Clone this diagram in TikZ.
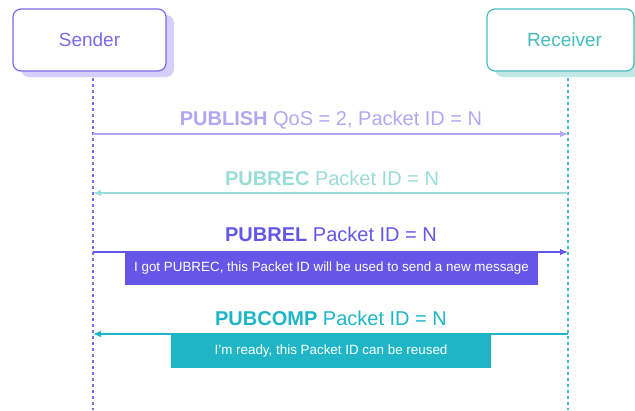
\documentclass[tikz,border=0pt]{standalone}
\usepackage{fontspec}
\setmainfont{Liberation Sans}
\usetikzlibrary{arrows.meta}
\definecolor{senderc}{HTML}{7A6BEB}
\definecolor{sendershadow}{HTML}{D5CFFA}
\definecolor{recvc}{HTML}{46BDBD}
\definecolor{recvshadow}{HTML}{BFE8E6}
\definecolor{pubc}{HTML}{B2A8F2}
\definecolor{recc}{HTML}{9ADCD8}
\definecolor{relc}{HTML}{6656E8}
\definecolor{compc}{HTML}{1EB6C6}
\tikzset{
  actor/.style={draw=#1, line width=1.2pt, rounded corners=8pt, fill=white, minimum width=153pt, minimum height=62pt, inner sep=0pt, font=\fontsize{19}{22}\selectfont, text=#1},
  shadowbox/.style={fill=#1, rounded corners=8pt, minimum width=153pt, minimum height=62pt, inner sep=0pt},
  lifeline/.style={draw=#1, line width=1.3pt, dash pattern=on 3pt off 3pt},
  msg/.style={draw=#1, line width=1.2pt, -{Latex[length=8pt,width=6.5pt]}},
  msglabel/.style={font=\fontsize{20}{23}\selectfont, text=#1, inner sep=0pt},
  note/.style={fill=#1, text=white, font=\fontsize{13.4}{16}\selectfont, inner sep=0pt, minimum height=33pt},
}
\begin{document}
\begin{tikzpicture}[x=1pt,y=-1pt]
\useasboundingbox (0,0) rectangle (635,410);
% shadows
\node[shadowbox=sendershadow] (ss) at (97.5,46) {};
\node[shadowbox=recvshadow, minimum width=147pt] (rs) at (568.5,46) {};
% actors
\node[actor=senderc] (sender) at (89.5,40) {Sender};
\node[actor=recvc, minimum width=147pt] (recv) at (560.5,40) {\hspace*{8pt}Receiver};
% lifelines
\coordinate (sbot) at (93,410);
\coordinate (rbot) at (568,410);
\coordinate (stop) at (93,78);
\coordinate (rtop) at (568,78);
\draw[lifeline=senderc] (stop) -- (sbot);
\draw[lifeline=recvc] (rtop) -- (rbot);
% messages
\coordinate (s1) at (93,134); \coordinate (r1) at (568,134);
\coordinate (s2) at (93,193); \coordinate (r2) at (568,193);
\coordinate (s3) at (93,252); \coordinate (r3) at (568,252);
\coordinate (s4) at (93,334); \coordinate (r4) at (568,334);
\draw[msg=pubc] (s1) -- (r1);
\draw[msg=recc] (r2) -- (s2);
\draw[msg=relc] (s3) -- (r3);
\draw[msg=compc] (r4) -- (s4);
\node[msglabel=pubc] (l1) at (331,120) {\textbf{PUBLISH} QoS = 2, Packet ID = N};
\node[msglabel=recc] (l2) at (332,178) {\textbf{PUBREC} Packet ID = N};
\node[msglabel=relc] (l3) at (331,234) {\textbf{PUBREL} Packet ID = N};
\node[msglabel=compc] (l4) at (331,318) {\textbf{PUBCOMP} Packet ID = N};
% notes
\node[note=relc, minimum width=413pt] (n1) at (331.5,268) {I got PUBREC, this Packet ID will be used to send a new message};
\node[note=compc, minimum width=320pt] (n2) at (331,351) {I'm ready, this Packet ID can be reused};
\end{tikzpicture}
\end{document}
